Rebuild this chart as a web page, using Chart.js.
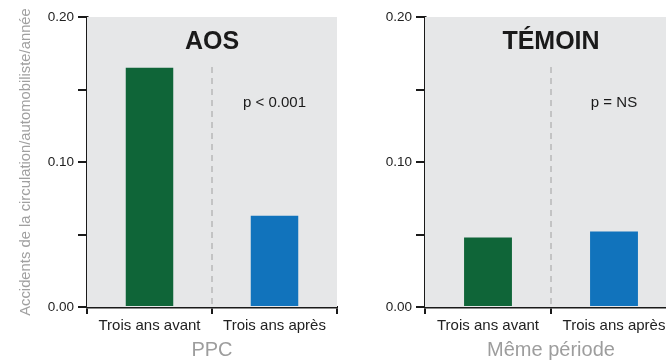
<!DOCTYPE html>
<html lang="fr">
<head>
  <meta charset="UTF-8" />
  <title>Accidents de la circulation</title>
  <script src="https://cdn.jsdelivr.net/npm/chart.js"></script>
  <style>
    html, body { margin: 0; padding: 0; background: #fff; overflow: hidden; }
    body { width: 666px; height: 360px; position: relative; }
    .panel { position: absolute; top: 0; height: 360px; }
    #left { left: 0; width: 345px; }
    #right { left: 340px; width: 345px; }
  </style>
</head>
<body>
  <div class="panel" id="left"><canvas id="chartAos"></canvas></div>
  <div class="panel" id="right"><canvas id="chartTemoin"></canvas></div>

  <script>
    const categories = ["Trois ans avant", "Trois ans après"];
    const aosValues = [0.165, 0.063];
    const temoinValues = [0.048, 0.052];
    const barColors = ["#0f6538", "#1173bc"];
    const yTickLabels = { "0": "0.00", "0.1": "0.10", "0.2": "0.20" };

    const FONT = "'Liberation Sans', Arial, Helvetica, sans-serif";

    // grey plot background, panel title, dashed separator and p value
    const panelDeco = {
      id: "panelDeco",
      beforeDatasetsDraw(chart, args, opts) {
        const { ctx, chartArea: a, scales: { x } } = chart;
        ctx.save();
        ctx.fillStyle = "#e6e7e8";
        ctx.fillRect(a.left, a.top, a.right - a.left, a.bottom - a.top);

        const mid = (x.getPixelForValue(0) + x.getPixelForValue(1)) / 2;
        ctx.strokeStyle = "#a0a0a0";
        ctx.lineWidth = 1;
        ctx.setLineDash([6, 5]);
        ctx.beginPath();
        ctx.moveTo(mid, a.top + 50);
        ctx.lineTo(mid, a.bottom);
        ctx.stroke();
        ctx.setLineDash([]);

        ctx.fillStyle = "#1a1a1a";
        ctx.textAlign = "center";
        ctx.textBaseline = "middle";
        ctx.font = "bold 25px " + FONT;
        ctx.fillText(opts.title, (a.left + a.right) / 2, a.top + 25);

        ctx.font = "15px " + FONT;
        ctx.fillText(opts.pValue, x.getPixelForValue(1), a.top + 86);
        ctx.restore();
      }
    };

    function makeChart(id, values, title, pValue, xTitle, yWidth, showYTitle) {
      return new Chart(document.getElementById(id), {
        type: "bar",
        data: {
          labels: categories,
          datasets: [{
            data: values,
            backgroundColor: barColors,
            categoryPercentage: 1,
            barPercentage: 0.38
          }]
        },
        options: {
          responsive: true,
          maintainAspectRatio: false,
          animation: false,
          layout: { padding: { top: 17, right: 8, left: 0, bottom: 0 } },
          plugins: {
            legend: { display: false },
            tooltip: { enabled: false },
            panelDeco: { title: title, pValue: pValue }
          },
          scales: {
            x: {
              offset: true,
              border: { color: "#1a1a1a", width: 2.5 },
              grid: {
                offset: true,
                drawOnChartArea: false,
                drawTicks: true,
                tickLength: 7,
                tickColor: "#1a1a1a",
                lineWidth: 2
              },
              ticks: {
                color: "#222",
                font: { family: FONT, size: 15 },
                padding: 3,
                maxRotation: 0
              },
              title: {
                display: true,
                text: xTitle,
                color: "#9d9d9d",
                font: { family: FONT, size: 20, lineHeight: 1 },
                padding: { top: 0, bottom: 0 }
              },
              afterFit(scale) { scale.height = 53; }
            },
            y: {
              min: 0,
              max: 0.2,
              border: { color: "#1a1a1a", width: 2.5 },
              grid: {
                drawOnChartArea: false,
                drawTicks: true,
                tickLength: 9,
                tickColor: "#1a1a1a",
                lineWidth: 2
              },
              ticks: {
                stepSize: 0.05,
                color: "#222",
                padding: 4,
                font: { family: FONT, size: 13.5 },
                callback(v) {
                  const key = String(Math.round(v * 100) / 100);
                  return yTickLabels[key] || "";
                }
              },
              title: {
                display: showYTitle,
                text: "Accidents de la circulation/automobiliste/année",
                color: "#a0a0a0",
                font: { family: FONT, size: 14.8, lineHeight: 1.2 },
                padding: { top: 17, bottom: 0 }
              },
              afterFit(scale) { scale.width = yWidth; }
            }
          }
        },
        plugins: [panelDeco]
      });
    }

    makeChart("chartAos", aosValues, "AOS", "p < 0.001", "PPC", 87, true);
    makeChart("chartTemoin", temoinValues, "TÉMOIN", "p = NS", "Même période", 85, false);
  </script>
</body>
</html>
